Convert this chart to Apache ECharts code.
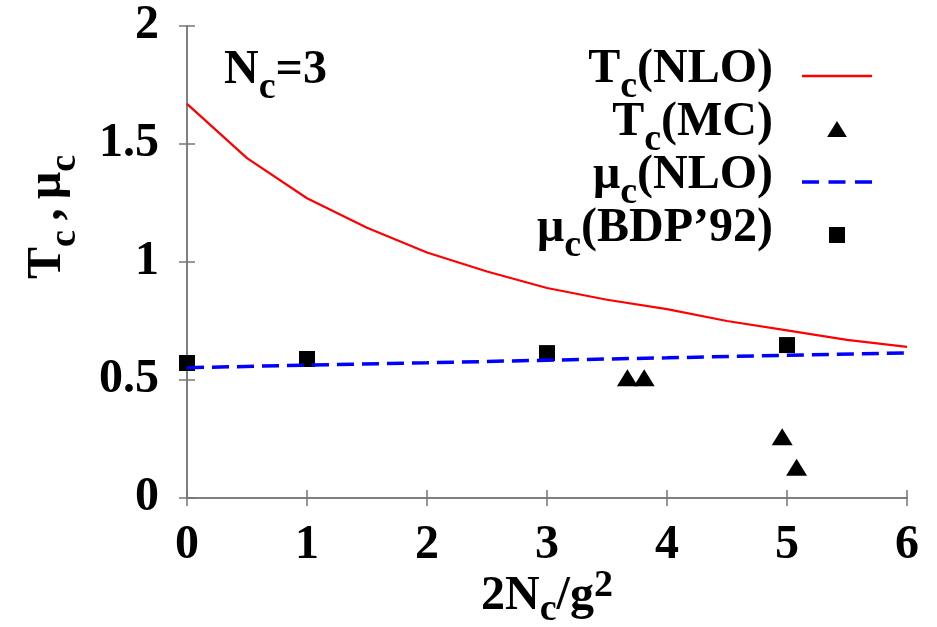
<!DOCTYPE html>
<html>
<head>
<meta charset="utf-8">
<script src="https://cdn.jsdelivr.net/npm/echarts@6/dist/echarts.min.js"></script>
<style>html,body{margin:0;padding:0;background:#fff;}#c{width:937px;height:627px;}</style>
</head>
<body>
<div id="c"></div>
<script>
// Data
var xTicks = [0, 1, 2, 3, 4, 5, 6];
var yTicks = [0, 0.5, 1, 1.5, 2];
var tcNloX = [0, 0.5, 1, 1.5, 2, 2.5, 3, 3.5, 4, 4.5, 5, 5.5, 6];
var tcNloY = [1.67, 1.44, 1.27, 1.145, 1.04, 0.96, 0.89, 0.84, 0.80, 0.75, 0.71, 0.67, 0.64];
var tcMcX = [3.67, 3.81, 4.96, 5.08];
var tcMcY = [0.51, 0.51, 0.26, 0.13];
var muNloX = [0, 1, 2, 3, 4, 5, 6];
var muNloY = [0.552, 0.563, 0.573, 0.584, 0.594, 0.605, 0.615];
var muBdpX = [0, 1, 3, 5];
var muBdpY = [0.572, 0.589, 0.614, 0.648];

function pairs(xs, ys) { return xs.map(function (x, i) { return [x, ys[i]]; }); }

var FONT = '"Liberation Serif", "Times New Roman", serif';
function tok(size, padTop) {
  var t = { fontFamily: FONT, fontWeight: 'bold', fontSize: size, color: '#000', verticalAlign: 'top' };
  if (padTop) t.padding = [padTop, 0, 0, 0];
  return t;
}
var rich = { b: tok(48), s: tok(38, 22) };
var legendText = {
  'Tc(NLO)': '{b|T}{s|c}{b|(NLO)}',
  'Tc(MC)': '{b|T}{s|c}{b|(MC)}',
  'μc(NLO)': '{b|μ}{s|c}{b|(NLO)}',
  "μc(BDP'92)": "{b|μ}{s|c}{b|(BDP’92)}"
};

var axisLine = { show: true, lineStyle: { color: '#777', width: 1.5 } };
var tick = { show: true, inside: true, length: 8, lineStyle: { color: '#777', width: 1.5 } };
var labelStyle = { fontFamily: FONT, fontWeight: 'bold', fontSize: 48, color: '#000' };

var chart = echarts.init(document.getElementById('c'), null, { renderer: 'canvas' });
chart.setOption({
  animation: false,
  backgroundColor: '#fff',
  grid: { left: 187, right: 30, top: 26, bottom: 129, containLabel: false },
  xAxis: [
    { type: 'value', min: xTicks[0], max: xTicks[xTicks.length - 1], interval: 1, position: 'bottom',
      axisLine: axisLine, axisTick: tick, splitLine: { show: false },
      axisLabel: Object.assign({ margin: 24 }, labelStyle) },
    { type: 'value', min: xTicks[0], max: xTicks[xTicks.length - 1], interval: 1, position: 'top',
      axisLine: axisLine, axisTick: tick, splitLine: { show: false }, axisLabel: { show: false } }
  ],
  yAxis: [
    { type: 'value', min: yTicks[0], max: yTicks[yTicks.length - 1], interval: 0.5, position: 'left',
      axisLine: axisLine, axisTick: tick, splitLine: { show: false },
      axisLabel: Object.assign({ margin: 28 }, labelStyle) },
    { type: 'value', min: yTicks[0], max: yTicks[yTicks.length - 1], interval: 0.5, position: 'right',
      axisLine: axisLine, axisTick: tick, splitLine: { show: false }, axisLabel: { show: false } }
  ],
  legend: {
    orient: 'vertical', align: 'right', right: 65, top: 46, itemGap: -7, padding: 0,
    itemWidth: 70, itemHeight: 16, symbolKeepAspect: true,
    formatter: function (n) { return legendText[n]; },
    textStyle: { rich: rich, padding: [0, 24, 0, 0] },
    data: [
      { name: 'Tc(NLO)', icon: 'path://M0,0h70v2.5h-70z' },
      { name: 'Tc(MC)', icon: 'path://M0,17L10.5,0L21,17Z' },
      { name: 'μc(NLO)', icon: 'path://M0,0h16v3.5h-16zM25,0h16v3.5h-16zM50,0h16v3.5h-16z' },
      { name: "μc(BDP'92)", icon: 'path://M0,0h15v15h-15z' }
    ]
  },
  graphic: [
    { type: 'text', left: 224, top: 47, style: { text: '{b|N}{s|c}{b|=3}', rich: rich } },
    { type: 'text', x: 54, y: 217, rotation: Math.PI / 2,
      style: { text: '{b|T}{s|c}{b|\u2009,\u2009μ}{s|c}', rich: rich, align: 'center', verticalAlign: 'middle' } },
    { type: 'text', x: 547, y: 567, style: { text: '{b|2N}{s|c}{b|/g}{p|2}', align: 'center', verticalAlign: 'top',
      rich: { b: tok(48, 6), s: tok(38, 24), p: tok(38) } } }
  ],
  series: [
    { name: 'Tc(NLO)', type: 'line', data: pairs(tcNloX, tcNloY), showSymbol: false, symbol: 'none',
      lineStyle: { color: '#ff0000', width: 2.2 }, itemStyle: { color: '#ff0000' } },
    { name: 'Tc(MC)', type: 'scatter', data: pairs(tcMcX, tcMcY), symbol: 'triangle', symbolSize: [21, 17],
      itemStyle: { color: '#000', opacity: 1 } },
    { name: 'μc(NLO)', type: 'line', data: pairs(muNloX, muNloY), showSymbol: false, symbol: 'none',
      lineStyle: { color: '#0000ff', width: 3.5, type: [17, 8] }, itemStyle: { color: '#0000ff' } },
    { name: "μc(BDP'92)", type: 'scatter', data: pairs(muBdpX, muBdpY), symbol: 'rect', symbolSize: 16,
      itemStyle: { color: '#000', opacity: 1 } }
  ]
});
</script>
</body>
</html>
